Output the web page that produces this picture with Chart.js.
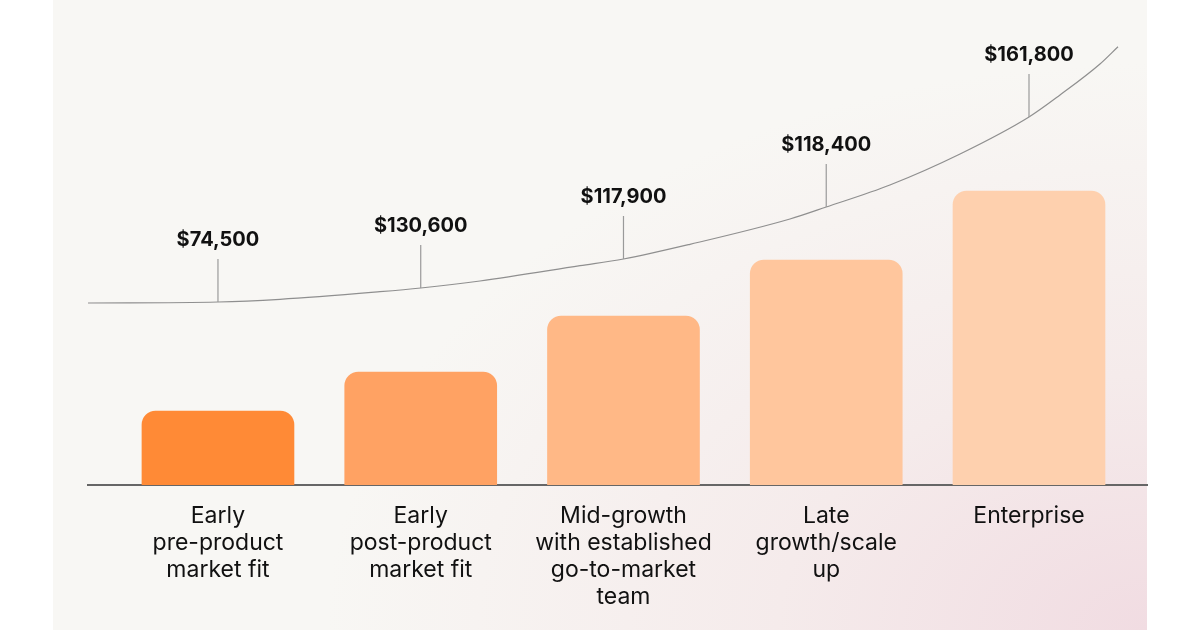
<!DOCTYPE html>
<html>
<head>
<meta charset="utf-8">
<script src="https://cdn.jsdelivr.net/npm/chart.js@4"></script>
<style>
  html, body { margin: 0; padding: 0; background: #ffffff; }
  #wrap { position: relative; width: 1200px; height: 630px; overflow: hidden; }
  #panel {
    position: absolute; left: 53px; top: 0; width: 1094px; height: 630px;
    background: radial-gradient(ellipse 75% 90% at 100% 100%, #f1dce2 0%, #f5ebeb 45%, #f8f7f4 100%);
  }
  #salaryChart { position: absolute; left: 0; top: 0; }
</style>
</head>
<body>
<div id="wrap">
  <div id="panel"></div>
  <canvas id="salaryChart" width="1200" height="630"></canvas>
</div>
<script>
// стадии компании (подписи оси X)
const stages = [
    ['Early', 'pre-product', 'market fit'],
    ['Early', 'post-product', 'market fit'],
    ['Mid-growth', 'with established', 'go-to-market', 'team'],
    ['Late', 'growth/scale', 'up'],
    ['Enterprise']
];
const salaries = ['$74,500', '$130,600', '$117,900', '$118,400', '$161,800'];
const barHeights = [74, 113, 169, 225, 294];
const barColors = ['#ff8a36', '#ffa263', '#ffb886', '#ffc69d', '#fed0ae'];

// декоративная кривая роста
const curveX = [-0.641, 0, 0.306, 0.799, 1, 1.292, 1.786, 2, 2.328, 2.821, 3, 3.314, 3.66, 4, 4.153, 4.35, 4.439];
const curveY = [182, 183, 185.7, 193.3, 197, 204, 219.3, 226, 240.7, 266, 278, 300, 331, 368, 390, 421, 438.3];

const UI_CONST = {
    FONT: 'Inter',
    TEXT_COLOR: '#111111',
    CURVE_COLOR: '#8f8f8f',
    AXIS_COLOR: '#666666',
    STEM_LEN: 43,
};

const salaryLabels = {
    id: 'salaryLabels',
    afterDatasetsDraw(chart) {
        const ctx = chart.ctx;
        const curveMeta = chart.getDatasetMeta(1);
        ctx.save();
        salaries.forEach((txt, i) => {
            const pt = curveMeta.data[curveX.indexOf(i)];
            if (!pt) return;
            const x = pt.x;
            const y = pt.y;
            ctx.strokeStyle = '#9a9a9a';
            ctx.lineWidth = 1.2;
            ctx.beginPath();
            ctx.moveTo(x, y);
            ctx.lineTo(x, y - UI_CONST.STEM_LEN);
            ctx.stroke();
            ctx.fillStyle = UI_CONST.TEXT_COLOR;
            ctx.font = `bold 20px ${UI_CONST.FONT}`;
            ctx.textAlign = 'center';
            ctx.textBaseline = 'middle';
            ctx.fillText(txt, x, y - UI_CONST.STEM_LEN - 19);
        });
        ctx.restore();
    }
};

const ctx = document.getElementById('salaryChart').getContext('2d');
const chart = new Chart(ctx, {
    data: {
        datasets: [{
            type: 'bar',
            data: barHeights.map((h, i) => ({ x: i, y: h })),
            backgroundColor: barColors,
            borderRadius: { topLeft: 14, topRight: 14, bottomLeft: 0, bottomRight: 0 },
            borderSkipped: 'bottom',
            barThickness: 152,
            order: 2
        }, {
            type: 'line',
            data: curveX.map((x, i) => ({ x: x, y: curveY[i] })),
            borderColor: UI_CONST.CURVE_COLOR,
            borderWidth: 1.2,
            pointRadius: 0,
            cubicInterpolationMode: 'monotone',
            fill: false,
            order: 1
        }]
    },
    options: {
        responsive: false,
        animation: false,
        layout: { padding: { left: 88, right: 53, top: 0, bottom: 0 } },
        plugins: {
            legend: { display: false },
            tooltip: { enabled: false }
        },
        scales: {
            x: {
                type: 'linear',
                offset: false,
                min: -0.641,
                max: 4.582,
                grid: { display: false, drawTicks: false, offset: false },
                border: { display: true, color: UI_CONST.AXIS_COLOR, width: 2 },
                afterBuildTicks: scale => { scale.ticks = stages.map((_, i) => ({ value: i })); },
                afterFit: scale => { scale.height = 145; },
                ticks: {
                    autoSkip: false,
                    maxRotation: 0,
                    padding: 18,
                    color: UI_CONST.TEXT_COLOR,
                    font: { family: UI_CONST.FONT, size: 23, lineHeight: 1.17 },
                    callback: v => stages[Math.round(v)]
                }
            },
            y: {
                display: false,
                min: 0,
                max: 485
            }
        }
    },
    plugins: [salaryLabels]
});
</script>
</body>
</html>
